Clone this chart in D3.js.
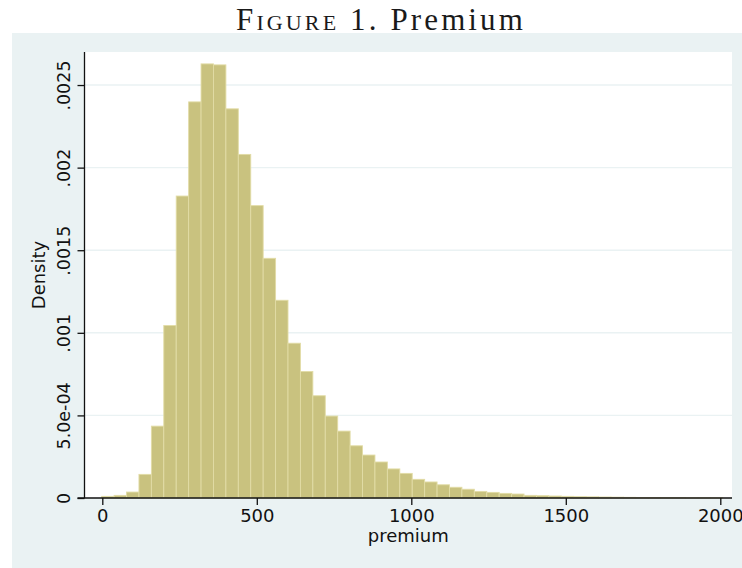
<!DOCTYPE html>
<html>
<head>
<meta charset="utf-8">
<script src="https://cdn.jsdelivr.net/npm/d3@7"></script>
<style>
  html, body { margin: 0; padding: 0; background: #ffffff; }
  svg { display: block; }
</style>
</head>
<body>
<svg id="chart" width="742" height="568"></svg>
<script>
// Histogram of premium: bins start at binStart, each binWidth wide
const binStart = -2;
const binWidth = 40.2;
const density = [
  0.000010, 0.000016, 0.000036, 0.000143, 0.000435, 0.001044, 0.001828, 0.002398,
  0.002628, 0.002622, 0.002356, 0.002080, 0.001770, 0.001451, 0.001197, 0.000937,
  0.000766, 0.000619, 0.000496, 0.000405, 0.000316, 0.000260, 0.000218, 0.000176,
  0.000149, 0.000113, 0.000097, 0.000080, 0.000065, 0.000053, 0.000040, 0.000034,
  0.000028, 0.000024, 0.000016, 0.000014, 0.000012, 0.000010, 0.000008, 0.000007,
  0.000006, 0.000005, 0.000004, 0.000003, 0.000003, 0.000002, 0.000002, 0.000001,
  0.000001, 0.000001
];
const xTicks = [0, 500, 1000, 1500, 2000];
const yTicks = [0, 0.0005, 0.001, 0.0015, 0.002, 0.0025];
const yTickLabels = ["0", "5.0e-04", ".001", ".0015", ".002", ".0025"];
const titleLead = "Figure";
const titleRest = " 1. Premium";
const xTitle = "premium";
const yTitle = "Density";

const svg = d3.select("#chart");
const W = 742, H = 568;
const plot = { left: 84.5, right: 732, top: 52, bottom: 498 };

// Graph region panel
svg.append("rect")
  .attr("x", 12).attr("y", 33)
  .attr("width", W - 12).attr("height", H - 33)
  .attr("fill", "#eaf2f3");

// Plot region
svg.append("rect")
  .attr("x", plot.left).attr("y", plot.top)
  .attr("width", plot.right - plot.left).attr("height", plot.bottom - plot.top)
  .attr("fill", "#ffffff");

const x = d3.scaleLinear().domain([0, 2000]).range([102.3, 720.3]);
const y = d3.scaleLinear().domain([0, 0.0027]).range([plot.bottom, plot.top]);

// Horizontal grid lines
svg.append("g")
  .selectAll("line")
  .data(yTicks.filter(d => d > 0))
  .join("line")
  .attr("x1", plot.left).attr("x2", plot.right)
  .attr("y1", d => y(d)).attr("y2", d => y(d))
  .attr("stroke", "#eaf2f3")
  .attr("stroke-width", 1.4);

// Bars
svg.append("g")
  .selectAll("rect")
  .data(density)
  .join("rect")
  .attr("x", (d, i) => x(binStart + i * binWidth))
  .attr("width", (d, i) => x(binStart + (i + 1) * binWidth) - x(binStart + i * binWidth))
  .attr("y", d => y(d))
  .attr("height", d => y(0) - y(d))
  .attr("fill", "#c9c27f")
  .attr("stroke", "#e2dca6")
  .attr("stroke-width", 0.9);

const font = "'DejaVu Sans', sans-serif";

// X axis
const xAxis = d3.axisBottom(x)
  .tickValues(xTicks)
  .tickFormat(d3.format("d"))
  .tickSize(7)
  .tickPadding(4);
const gx = svg.append("g")
  .attr("transform", `translate(0,${plot.bottom})`)
  .call(xAxis);
gx.select(".domain").remove();
gx.append("line")
  .attr("x1", plot.left - 7).attr("x2", plot.right)
  .attr("y1", 0).attr("y2", 0)
  .attr("stroke", "#111").attr("stroke-width", 1.3);
gx.selectAll(".tick line").attr("stroke", "#111").attr("stroke-width", 1.3);
gx.selectAll(".tick text")
  .attr("fill", "#111")
  .style("font-family", font)
  .style("font-size", "18px");

// Y axis
const yAxis = d3.axisLeft(y)
  .tickValues(yTicks)
  .tickFormat((d, i) => yTickLabels[i])
  .tickSize(7);
const gy = svg.append("g")
  .attr("transform", `translate(${plot.left},0)`)
  .call(yAxis);
gy.select(".domain").remove();
gy.append("line")
  .attr("x1", 0).attr("x2", 0)
  .attr("y1", plot.top).attr("y2", plot.bottom)
  .attr("stroke", "#111").attr("stroke-width", 1.3);
gy.selectAll(".tick line").attr("stroke", "#111").attr("stroke-width", 1.3);
gy.selectAll(".tick text")
  .attr("x", null).attr("dy", null)
  .attr("transform", "translate(-14.5,0) rotate(-90)")
  .attr("text-anchor", "middle")
  .attr("fill", "#111")
  .style("font-family", font)
  .style("font-size", "17.5px");

// Axis titles
svg.append("text")
  .attr("x", x(1000) - 3)
  .attr("y", 541.5)
  .attr("text-anchor", "middle")
  .attr("fill", "#111")
  .style("font-family", font)
  .style("font-size", "18px")
  .text(xTitle);

svg.append("text")
  .attr("transform", `translate(45,${(plot.top + plot.bottom) / 2}) rotate(-90)`)
  .attr("text-anchor", "middle")
  .attr("fill", "#111")
  .style("font-family", font)
  .style("font-size", "18px")
  .text(yTitle);

// Figure caption: small-caps lead word, then regular text; tracked out to span 290px
const title = svg.append("text")
  .attr("x", 381)
  .attr("y", 29.5)
  .attr("text-anchor", "middle")
  .attr("fill", "#1a1a1a")
  .style("font-family", "'Liberation Serif', 'DejaVu Serif', serif")
  .style("font-size", "31px");
title.append("tspan").style("font-variant", "small-caps").text(titleLead);
title.append("tspan").text(titleRest);
const tw = title.node().getComputedTextLength();
const nChars = (titleLead + titleRest).length;
title.style("letter-spacing", Math.max(0, (290 - tw) / nChars).toFixed(2) + "px");
</script>
</body>
</html>
